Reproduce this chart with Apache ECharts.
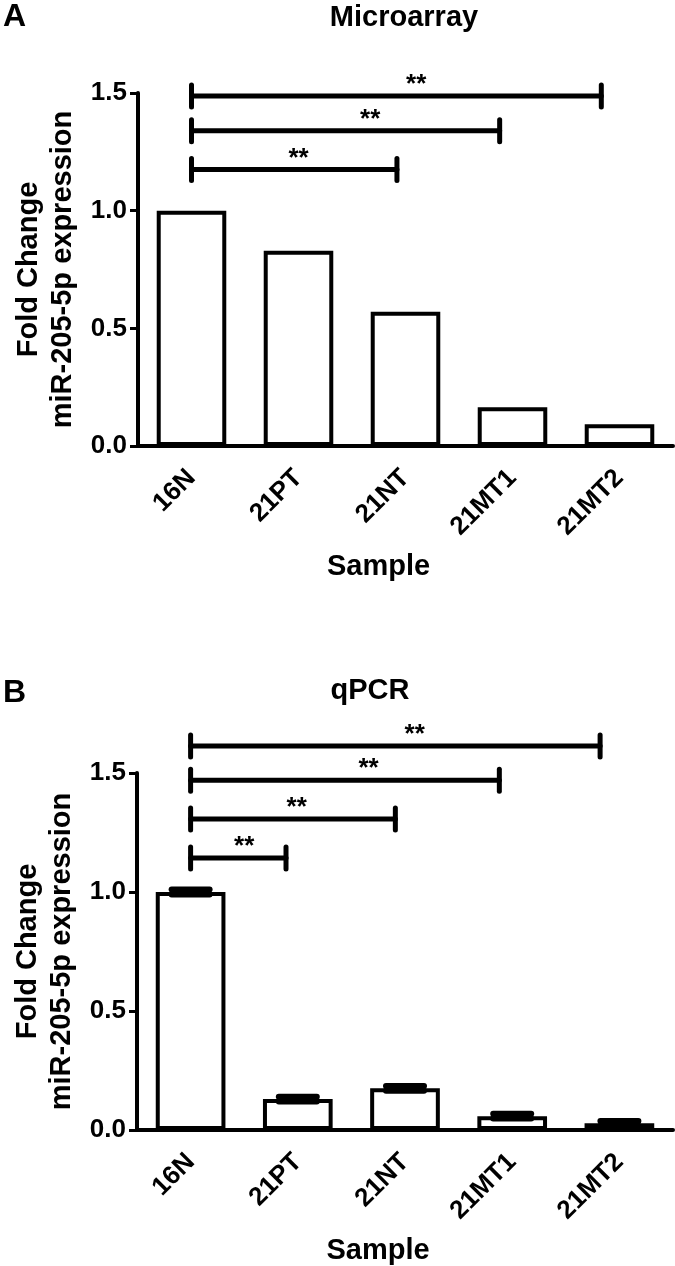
<!DOCTYPE html>
<html>
<head>
<meta charset="utf-8">
<script src="https://cdn.jsdelivr.net/npm/echarts@6/dist/echarts.min.js"></script>
<style>
html, body { margin: 0; padding: 0; background: #fff; }
#chart { width: 675px; height: 1266px; }
</style>
</head>
<body>
<div id="chart"></div>
<script>
var samples = ['16N', '21PT', '21NT', '21MT1', '21MT2'];
var microarray = [1.0, 0.83, 0.57, 0.165, 0.092];
var qpcr = [1.0, 0.13, 0.175, 0.058, 0.028];
var qpcrSem = [0.01, 0.01, 0.01, 0.01, 0.01];
var yTicks = [0, 0.5, 1.0, 1.5];
// significance brackets: [from, to, height, star position] (in category units)
var bracketsA = [[0, 1.92, 1.175, 1.0], [0, 2.88, 1.34, 1.67], [0, 3.83, 1.487, 2.1]];
var bracketsB = [[0, 0.89, 1.143, 0.5], [0, 1.91, 1.307, 0.99], [0, 2.88, 1.47, 1.66], [0, 3.82, 1.613, 2.09]];

var FONT = '"Liberation Sans", Arial, sans-serif';
var chart = echarts.init(document.getElementById('chart'));

function bracketItem(params, api) {
    var base = api.coord([0, api.value(1)]);
    var band = api.size([1, 0])[0];
    var x1 = base[0] + api.value(2) * band;
    var x2 = base[0] + api.value(3) * band;
    var xs = base[0] + api.value(4) * band;
    var y = base[1];
    var ls = { stroke: '#000', lineWidth: 5, lineCap: 'round' };
    return {
        type: 'group',
        children: [
            { type: 'line', shape: { x1: x1, y1: y, x2: x2, y2: y }, style: ls },
            { type: 'line', shape: { x1: x1, y1: y - 11, x2: x1, y2: y + 11 }, style: ls },
            { type: 'line', shape: { x1: x2, y1: y - 11, x2: x2, y2: y + 11 }, style: ls },
            { type: 'text', x: xs, y: y - 11, style: { text: '**', fill: '#000', font: 'bold 26px ' + FONT, align: 'center', verticalAlign: 'middle' } }
        ]
    };
}

function errItem(params, api) {
    var i = api.value(0);
    var m = api.value(1), s = api.value(2);
    var hi = api.coord([i, m + s]);
    var lo = api.coord([i, m - s]);
    var half = 19;
    var ls = { stroke: '#000', lineWidth: 6, lineCap: 'round' };
    return {
        type: 'group',
        children: [
            { type: 'line', shape: { x1: hi[0] - half, y1: hi[1], x2: hi[0] + half, y2: hi[1] }, style: ls },
            { type: 'line', shape: { x1: lo[0] - half, y1: lo[1], x2: lo[0] + half, y2: lo[1] }, style: ls },
            { type: 'rect', shape: { x: hi[0] - half, y: hi[1], width: 2 * half, height: lo[1] - hi[1] }, style: { fill: '#000' } }
        ]
    };
}

function xAxisOpt(idx) {
    return {
        type: 'category',
        gridIndex: idx,
        data: samples,
        name: 'Sample',
        nameLocation: 'middle',
        nameGap: 106,
        nameTextStyle: { fontSize: 29, fontWeight: 'bold', color: '#000', fontFamily: FONT, padding: [0, 54, 0, 0] },
        axisLine: { lineStyle: { color: '#000', width: 4 } },
        axisTick: { alignWithLabel: true, length: 10, lineStyle: { color: '#000', width: 3 } },
        axisLabel: { rotate: 45, margin: 28, fontSize: 26, fontWeight: 'bold', color: '#000', fontFamily: FONT, interval: 0 },
        splitLine: { show: false }
    };
}

function yAxisOpt(idx) {
    return {
        type: 'value',
        gridIndex: idx,
        min: yTicks[0],
        max: yTicks[yTicks.length - 1],
        interval: 0.5,
        name: 'Fold Change\nmiR-205-5p expression',
        nameLocation: 'middle',
        nameRotate: 90,
        nameGap: 58,
        nameTextStyle: { fontSize: 29, fontWeight: 'bold', color: '#000', fontFamily: FONT, lineHeight: 34 },
        axisLine: { show: true, lineStyle: { color: '#000', width: 4 } },
        axisTick: { show: true, length: 8, lineStyle: { color: '#000', width: 3 } },
        axisLabel: { margin: 11, fontSize: 26, fontWeight: 'bold', color: '#000', fontFamily: FONT,
            formatter: function (v) { return v.toFixed(1); } },
        splitLine: { show: false }
    };
}

var option = {
    backgroundColor: '#fff',
    animation: false,
    title: [
        { text: 'A', left: 3, top: 1, padding: 0, textStyle: { fontSize: 32, fontWeight: 'bold', color: '#000', fontFamily: FONT } },
        { text: 'Microarray', left: 404, top: 3, padding: 0, textAlign: 'center', textStyle: { fontSize: 29, fontWeight: 'bold', color: '#000', fontFamily: FONT } },
        { text: 'B', left: 3, top: 677, padding: 0, textStyle: { fontSize: 32, fontWeight: 'bold', color: '#000', fontFamily: FONT } },
        { text: 'qPCR', left: 370, top: 676, padding: 0, textAlign: 'center', textStyle: { fontSize: 29, fontWeight: 'bold', color: '#000', fontFamily: FONT } }
    ],
    grid: [
        { left: 138, top: 93, width: 535, height: 353 },
        { left: 137, top: 773, width: 536, height: 357 }
    ],
    xAxis: [xAxisOpt(0), xAxisOpt(1)],
    yAxis: [yAxisOpt(0), yAxisOpt(1)],
    series: [
        {
            type: 'bar', xAxisIndex: 0, yAxisIndex: 0, barWidth: '65%',
            itemStyle: { color: '#fff', borderColor: '#000', borderWidth: 4 },
            data: microarray
        },
        {
            type: 'custom', xAxisIndex: 0, yAxisIndex: 0, z: 5,
            renderItem: bracketItem, encode: { x: 0, y: 1 },
            data: bracketsA.map(function (b) { return [0, b[2], b[0], b[1], b[3]]; })
        },
        {
            type: 'bar', xAxisIndex: 1, yAxisIndex: 1, barWidth: '65%',
            itemStyle: { color: '#fff', borderColor: '#000', borderWidth: 4 },
            data: qpcr
        },
        {
            type: 'custom', xAxisIndex: 1, yAxisIndex: 1, z: 5,
            renderItem: errItem, encode: { x: 0, y: 1 },
            data: qpcr.map(function (v, i) { return [i, v, qpcrSem[i]]; })
        },
        {
            type: 'custom', xAxisIndex: 1, yAxisIndex: 1, z: 5,
            renderItem: bracketItem, encode: { x: 0, y: 1 },
            data: bracketsB.map(function (b) { return [0, b[2], b[0], b[1], b[3]]; })
        }
    ]
};

chart.setOption(option);
</script>
</body>
</html>
